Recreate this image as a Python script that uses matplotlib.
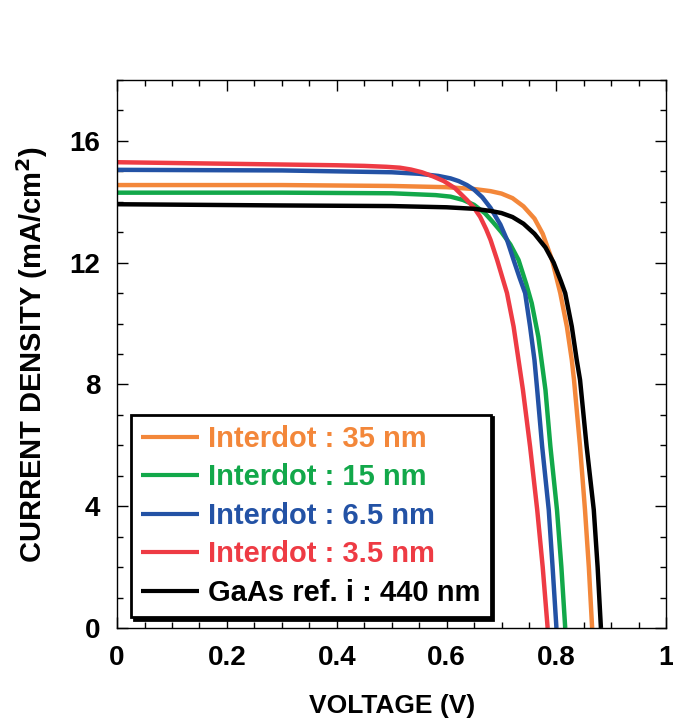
import numpy as np
import matplotlib.pyplot as plt
from matplotlib.ticker import MultipleLocator

plt.rcParams['font.family'] = ['Liberation Sans', 'DejaVu Sans']
plt.rcParams['font.weight'] = 'bold'

# J-V curves (voltage V, current density mA/cm2)
v_35 = [0.0, 0.3, 0.5, 0.6, 0.65, 0.68, 0.70, 0.72, 0.74, 0.76, 0.775, 0.792, 0.807, 0.819, 0.828, 0.832, 0.843, 0.852, 0.859, 0.865]
j_35 = [14.55, 14.55, 14.52, 14.48, 14.42, 14.35, 14.27, 14.12, 13.85, 13.45, 12.95, 12.09, 11.0, 9.90, 8.80, 8.15, 5.96, 3.88, 2.0, 0.0]

v_15 = [0.0, 0.3, 0.5, 0.58, 0.607, 0.63, 0.65, 0.67, 0.685, 0.70, 0.716, 0.731, 0.745, 0.755, 0.767, 0.775, 0.78, 0.789, 0.801, 0.809, 0.816]
j_15 = [14.3, 14.3, 14.28, 14.22, 14.17, 14.06, 13.90, 13.62, 13.32, 13.0, 12.6, 12.09, 11.3, 10.67, 9.57, 8.5, 7.82, 5.96, 3.88, 2.0, 0.0]

v_65 = [0.0, 0.3, 0.5, 0.55, 0.585, 0.607, 0.622, 0.637, 0.65, 0.665, 0.68, 0.698, 0.71, 0.722, 0.733, 0.743, 0.752, 0.76, 0.765, 0.774, 0.786, 0.793, 0.800]
j_65 = [15.05, 15.03, 14.97, 14.92, 14.85, 14.77, 14.68, 14.55, 14.4, 14.15, 13.8, 13.25, 12.75, 12.09, 11.5, 11.0, 9.90, 8.80, 7.82, 5.96, 3.88, 2.0, 0.0]

v_35b = [0.0, 0.2, 0.4, 0.45, 0.49, 0.515, 0.535, 0.555, 0.576, 0.595, 0.615, 0.637, 0.65, 0.661, 0.672, 0.68, 0.692, 0.71, 0.722, 0.731, 0.739, 0.752, 0.765, 0.775, 0.784]
j_35b = [15.3, 15.25, 15.2, 15.18, 15.15, 15.12, 15.06, 14.97, 14.83, 14.68, 14.45, 14.06, 13.8, 13.51, 13.1, 12.75, 12.09, 11.0, 9.90, 8.80, 7.82, 5.96, 3.88, 2.0, 0.0]

v_ref = [0.0, 0.3, 0.5, 0.6, 0.65, 0.68, 0.70, 0.72, 0.74, 0.76, 0.78, 0.795, 0.808, 0.816, 0.828, 0.837, 0.843, 0.855, 0.868, 0.875, 0.881]
j_ref = [13.92, 13.88, 13.86, 13.82, 13.77, 13.7, 13.63, 13.5, 13.28, 12.95, 12.5, 12.0, 11.4, 11.0, 9.90, 8.80, 8.15, 5.96, 3.88, 2.0, 0.0]

labels = ['Interdot : 35 nm', 'Interdot : 15 nm', 'Interdot : 6.5 nm',
          'Interdot : 3.5 nm', 'GaAs ref. i : 440 nm']
colors = ['#F3873A', '#12A84A', '#2352A5', '#EE3B44', '#000000']

fig = plt.figure(figsize=(6.73, 7.21), dpi=100)
ax = fig.add_axes([0.174, 0.129, 0.816, 0.76])

curves = [(v_35, j_35), (v_15, j_15), (v_65, j_65), (v_35b, j_35b), (v_ref, j_ref)]
for (v, j), lab, c in zip(curves, labels, colors):
    ax.plot(v, j, color=c, lw=3.2, label=lab, solid_capstyle='butt', solid_joinstyle='round')

ax.set_xlim(0, 1)
ax.set_ylim(0, 18)
ax.xaxis.set_major_locator(MultipleLocator(0.2))
ax.xaxis.set_minor_locator(MultipleLocator(0.05))
ax.yaxis.set_major_locator(MultipleLocator(4))
ax.yaxis.set_minor_locator(MultipleLocator(1))
ax.set_xticks([0, 0.2, 0.4, 0.6, 0.8, 1.0])
ax.set_xticklabels(['0', '0.2', '0.4', '0.6', '0.8', '1'])
ax.set_yticks([0, 4, 8, 12, 16])
ax.tick_params(which='both', direction='in', top=True, right=True, labelsize=20, width=1)
ax.tick_params(which='major', length=8, pad=12)
ax.tick_params(which='minor', length=4)
for s in ax.spines.values():
    s.set_linewidth(1)

ax.set_xlabel('VOLTAGE (V)', fontsize=19, fontweight='bold', labelpad=17)
ax.set_ylabel('CURRENT DENSITY (mA/cm$^\\mathbf{2}$)', fontsize=21, fontweight='bold', labelpad=14)

leg = ax.legend(loc='lower left', bbox_to_anchor=(0.025, 0.02), borderaxespad=0,
                fontsize=21, labelcolor='linecolor', fancybox=False,
                edgecolor='black', handlelength=2.0, handletextpad=0.3,
                labelspacing=0.36, borderpad=0.35,
                shadow={'color': 'black', 'alpha': 1})
leg.get_frame().set_linewidth(2)
for line in leg.get_lines():
    line.set_linewidth(3)
for t in leg.get_texts():
    t.set_fontweight('bold')

fig.savefig('out.png', dpi=100)
